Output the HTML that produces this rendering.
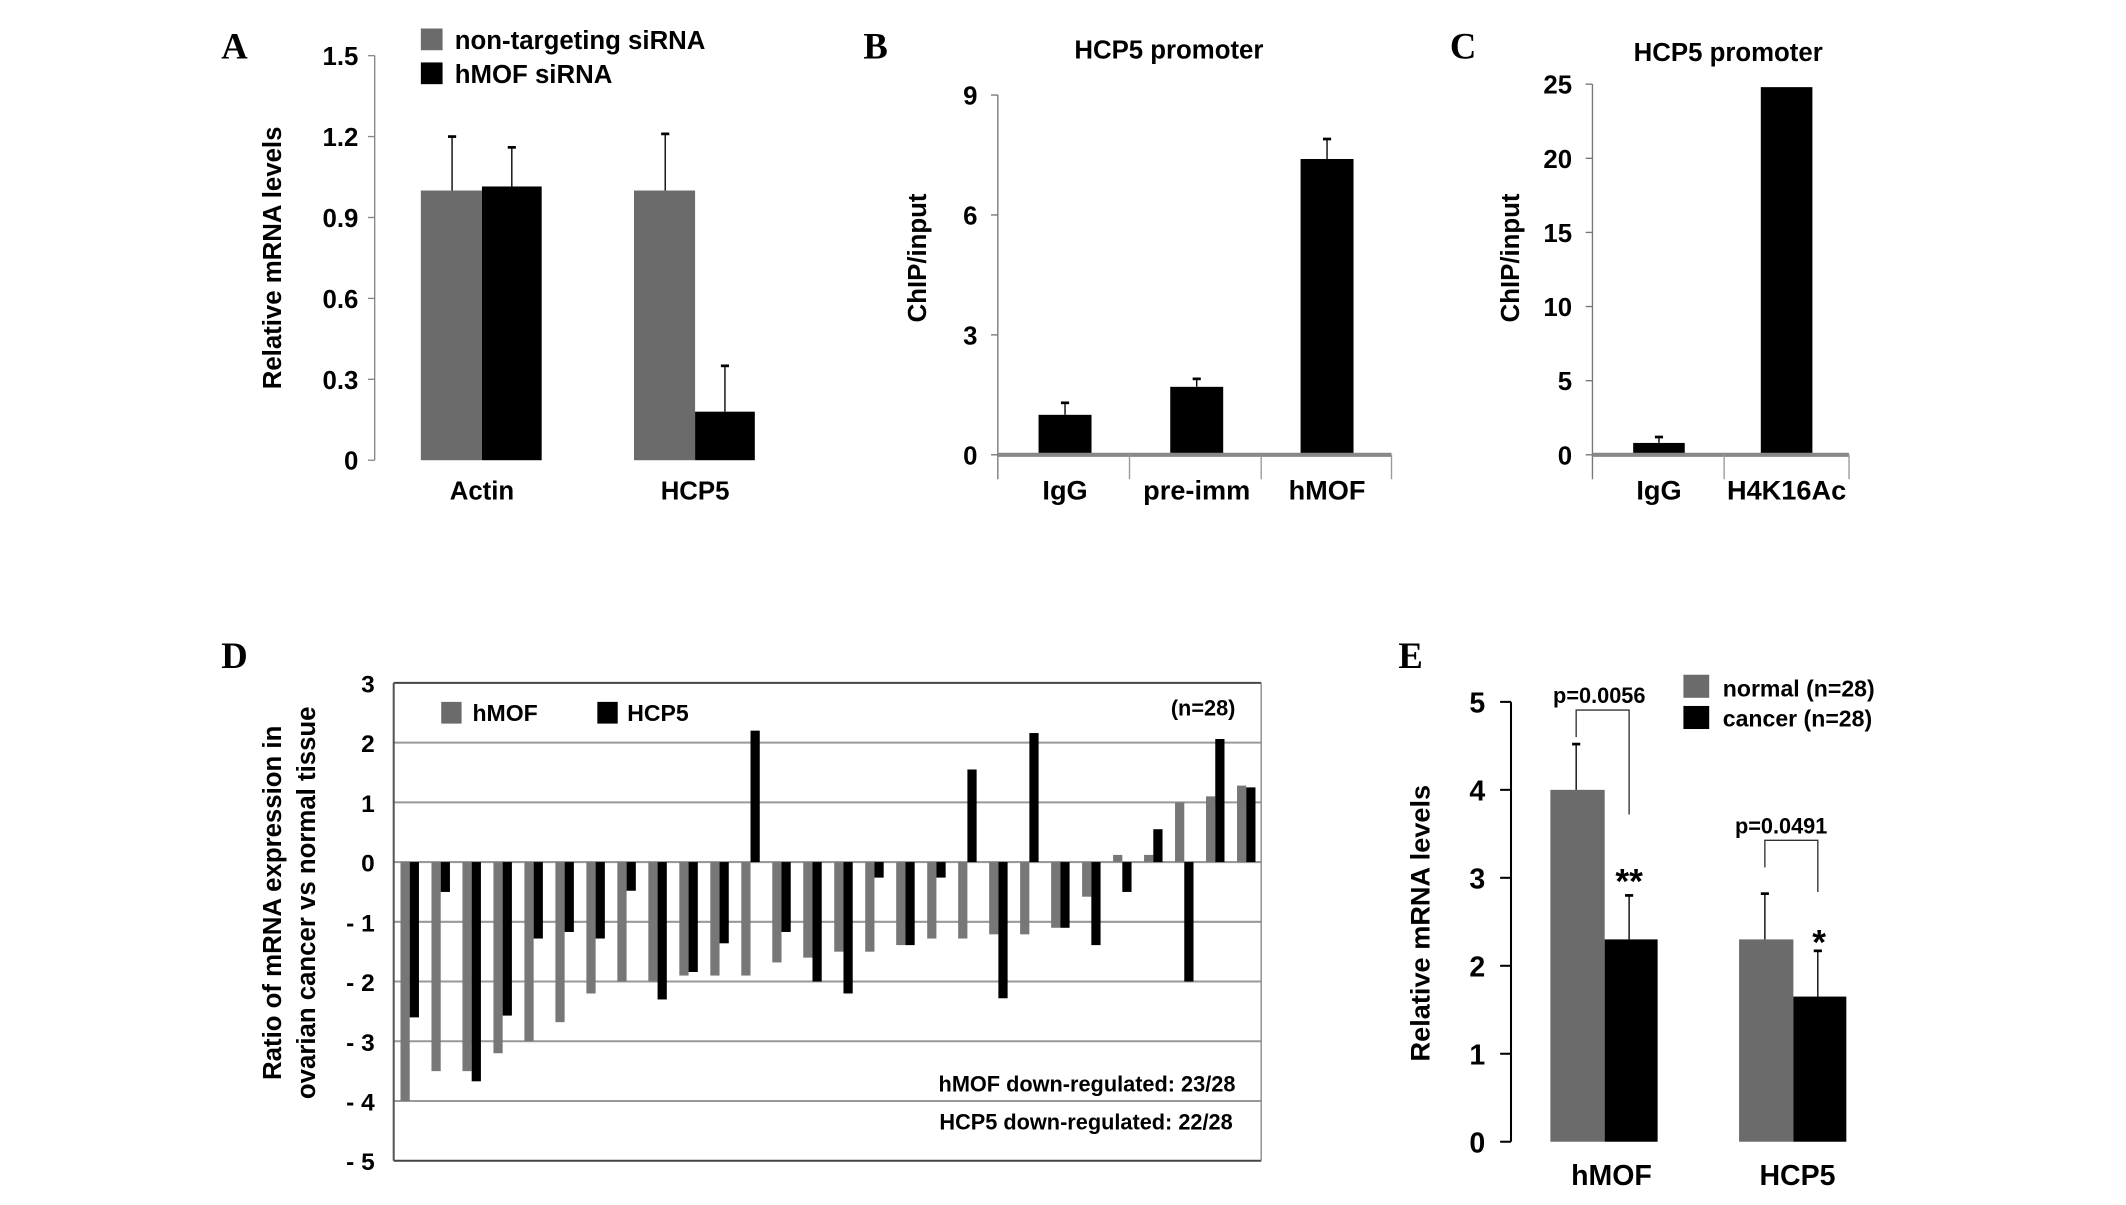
<!DOCTYPE html>
<html><head><meta charset="utf-8"><style>
html,body{margin:0;padding:0;background:#fff;}
svg{display:block;font-family:"Liberation Sans",sans-serif;font-weight:bold;}
</style></head><body>
<svg id="fig" width="2126" height="1205" viewBox="0 0 1566 887.6" preserveAspectRatio="xMinYMin meet">
<rect x="0" y="0" width="1566" height="888" fill="#fff"/>
<g id="static" font-size="19">
<text x="163" y="43" font-family="Liberation Serif,serif" font-size="27">A</text>
<text x="636" y="43" font-family="Liberation Serif,serif" font-size="27">B</text>
<text x="1068" y="43" font-family="Liberation Serif,serif" font-size="27">C</text>
<text x="163" y="492" font-family="Liberation Serif,serif" font-size="27">D</text>
<text x="1030" y="492" font-family="Liberation Serif,serif" font-size="27">E</text>
<rect x="310" y="21" width="16" height="16" fill="#6b6b6b"/>
<text x="335" y="36">non-targeting siRNA</text>
<rect x="310" y="46" width="16" height="16" fill="#000"/>
<text x="335" y="61">hMOF siRNA</text>
<text transform="translate(207,190) rotate(-90)" text-anchor="middle">Relative mRNA levels</text>
<text x="861" y="43" text-anchor="middle">HCP5 promoter</text>
<text transform="translate(682,190) rotate(-90)" text-anchor="middle">ChIP/input</text>
<text x="1273" y="45" text-anchor="middle">HCP5 promoter</text>
<text transform="translate(1119,190) rotate(-90)" text-anchor="middle">ChIP/input</text>
<text transform="translate(207,665) rotate(-90)" text-anchor="middle">Ratio of mRNA expression in</text>
<text transform="translate(232,665) rotate(-90)" text-anchor="middle">ovarian cancer vs normal tissue</text>
<rect x="325" y="517" width="15" height="16" fill="#6b6b6b"/>
<text x="348" y="531" font-size="17">hMOF</text>
<rect x="440" y="517" width="15" height="16" fill="#000"/>
<text x="462" y="531" font-size="17">HCP5</text>
<text x="910" y="527" text-anchor="end" font-size="16">(n=28)</text>
<text x="910" y="804" text-anchor="end" font-size="16">hMOF down-regulated: 23/28</text>
<text x="908" y="832" text-anchor="end" font-size="16">HCP5 down-regulated: 22/28</text>
<rect x="1240" y="497" width="19" height="17" fill="#6b6b6b"/>
<text x="1269" y="513" font-size="17">normal (n=28)</text>
<rect x="1240" y="520" width="19" height="17" fill="#000"/>
<text x="1269" y="535" font-size="17">cancer (n=28)</text>
<text transform="translate(1053,680) rotate(-90)" text-anchor="middle" font-size="20">Relative mRNA levels</text>
<text x="1178" y="518" text-anchor="middle" font-size="16">p=0.0056</text>
<text x="1312" y="614" text-anchor="middle" font-size="16">p=0.0491</text>
<text x="1200" y="658" text-anchor="middle" font-size="26">**</text>
<text x="1340" y="703" text-anchor="middle" font-size="26">*</text>
</g>
<g id="dyn"></g>
</svg>
<script>
// Panel A
const aCategories = ["Actin", "HCP5"];
const aNonTargeting = [1.0, 1.0];
const aNonTargetingErr = [0.2, 0.21];
const aHmofSirna = [1.015, 0.18];
const aHmofSirnaErr = [0.145, 0.17];
const aTicks = ["0", "0.3", "0.6", "0.9", "1.2", "1.5"];
const aTickValues = [0, 0.3, 0.6, 0.9, 1.2, 1.5];
// Panel B
const bCategories = ["IgG", "pre-imm", "hMOF"];
const bValues = [1.0, 1.7, 7.4];
const bErr = [0.3, 0.2, 0.5];
const bTickValues = [0, 3, 6, 9];
// Panel C
const cCategories = ["IgG", "H4K16Ac"];
const cValues = [0.8, 24.8];
const cErr = [0.4, 0];
const cTickValues = [0, 5, 10, 15, 20, 25];
// Panel D
const dHmof = [-4.0,-3.5,-3.5,-3.2,-3.0,-2.68,-2.2,-2.0,-2.0,-1.9,-1.9,-1.9,-1.68,-1.6,-1.5,-1.5,-1.39,-1.28,-1.28,-1.21,-1.21,-1.1,-0.58,0.12,0.12,1.0,1.1,1.28];
const dHcp5 = [-2.6,-0.5,-3.67,-2.57,-1.28,-1.17,-1.28,-0.48,-2.3,-1.84,-1.36,2.2,-1.17,-2.0,-2.2,-0.26,-1.39,-0.26,1.55,-2.28,2.16,-1.1,-1.39,-0.5,0.55,-2.0,2.06,1.25];
const dTickValues = [3, 2, 1, 0, -1, -2, -3, -4, -5];
const dTickLabels = ["3", "2", "1", "0", "- 1", "- 2", "- 3", "- 4", "- 5"];
// Panel E
const eCategories = ["hMOF", "HCP5"];
const eNormal = [4.0, 2.3];
const eNormalErr = [0.52, 0.52];
const eCancer = [2.3, 1.65];
const eCancerErr = [0.5, 0.52];
const eTickValues = [0, 1, 2, 3, 4, 5];

const NS = "http://www.w3.org/2000/svg";
const root = document.getElementById("dyn");
function mk(tag, attrs) {
  const el = document.createElementNS(NS, tag);
  for (const k in attrs) el.setAttribute(k, attrs[k]);
  root.appendChild(el);
  return el;
}
function scale(v0, v1, p0, p1) { return v => p0 + (v - v0) * (p1 - p0) / (v1 - v0); }
function errBar(x, yTop, yVal, name) {
  let l = mk("line", {x1:x, x2:x, y1:yVal, y2:yTop, stroke:"#000", "stroke-width":1});
  
  
  let c = mk("line", {x1:x-3, x2:x+3, y1:yTop, y2:yTop, stroke:"#000", "stroke-width":2});
  
  
}

// ---- Panel A
const ay = scale(0, 1.5, 339, 41);
{
  let ax = mk("line", {x1:276, x2:276, y1:ay(1.5), y2:ay(0), stroke:"#888", "stroke-width":1});
  
  
  aTickValues.forEach((v, i) => {
    let t = mk("line", {x1:271, x2:276, y1:ay(v), y2:ay(v), stroke:"#888"});
    
    
    let tx = mk("text", {x:264, y:ay(v)+7, "text-anchor":"end", "font-size":19});
    tx.textContent = aTicks[i];
    
    
  });
  const starts = [310, 467];
  aCategories.forEach((c, i) => {
    let x0 = starts[i];
    let g = mk("rect", {x:x0, y:ay(aNonTargeting[i]), width:45, height:ay(0)-ay(aNonTargeting[i]), fill:"#6b6b6b"});
    
    
    let b = mk("rect", {x:x0+45, y:ay(aHmofSirna[i]), width:44, height:ay(0)-ay(aHmofSirna[i]), fill:"#000"});
    
    
    errBar(x0+23, ay(aNonTargeting[i]+aNonTargetingErr[i]), ay(aNonTargeting[i]), 'a-error-nontargeting');
    errBar(x0+67, ay(aHmofSirna[i]+aHmofSirnaErr[i]), ay(aHmofSirna[i]), 'a-error-hmof-sirna');
    let t = mk("text", {x:x0+45, y:368, "text-anchor":"middle", "font-size":19});
    t.textContent = c;
    
    
  });
}

// ---- Panels B & C
function chip(prefix, axisX, axisRight, y0, yTopPix, vmax, ticks, cats, vals, errs, barX, barW, seps) {
  const sy = scale(0, vmax, y0, yTopPix);
  let ax = mk("line", {x1:axisX, x2:axisX, y1:sy(vmax), y2:353, stroke:"#777", "stroke-width":1});
  
  
  ticks.forEach(v => {
    let t = mk("line", {x1:axisX-5, x2:axisX, y1:sy(v), y2:sy(v), stroke:"#777"});
    
    
    let tx = mk("text", {x:axisX-15, y:sy(v)+7, "text-anchor":"end", "font-size":19});
    tx.textContent = String(v);
    
    
  });
  cats.forEach((c, i) => {
    let b = mk("rect", {x:barX[i], y:sy(vals[i]), width:barW, height:y0-sy(vals[i]), fill:"#000"});
    
    
    if (errs[i] > 0) errBar(barX[i]+barW/2, sy(vals[i]+errs[i]), sy(vals[i]), prefix + '-error-' + c.toLowerCase());
    let t = mk("text", {x:barX[i]+barW/2, y:368, "text-anchor":"middle", "font-size":20});
    t.textContent = c;
    
    
  });
  let xa = mk("line", {x1:axisX, x2:axisRight, y1:y0, y2:y0, stroke:"#888", "stroke-width":3});
  
  
  seps.forEach(x => {
    let s = mk("line", {x1:x, x2:x, y1:y0, y2:353, stroke:"#999", "stroke-width":1});
    
    
  });
}
chip('b', 735, 1025, 335, 70, 9, bTickValues, bCategories, bValues, bErr, [765, 862, 958], 39, [832, 929, 1025]);
chip('c', 1173, 1362, 335, 62, 25, cTickValues, cCategories, cValues, cErr, [1203, 1297], 38, [1270, 1362]);

// ---- Panel D
const dy = scale(3, -5, 503, 855);
const dL = 290, dR = 929, slot = (dR - dL) / dHmof.length;
dTickValues.forEach((v, i) => {
  let gl = mk("line", {x1:dL, x2:dR, y1:dy(v), y2:dy(v), stroke:(v===3||v===-5)?"#444":"#999", "stroke-width":1.5});
  
  
  let tx = mk("text", {x:276, y:dy(v)+7, "text-anchor":"end", "font-size":18});
  tx.textContent = dTickLabels[i];
  
  
});
{
  let l = mk("line", {x1:dL, x2:dL, y1:dy(3), y2:dy(-5), stroke:"#555", "stroke-width":1.5});
  
  
  let r = mk("line", {x1:dR, x2:dR, y1:dy(3), y2:dy(-5), stroke:"#888", "stroke-width":1});
  
  
}
dHmof.forEach((v, i) => {
  const x = dL + i * slot + 5;
  let g = mk("rect", {x:x, y:Math.min(dy(v), dy(0)), width:6.8, height:Math.abs(dy(v)-dy(0)), fill:"#777"});
  
  
  const h = dHcp5[i];
  let b = mk("rect", {x:x+6.8, y:Math.min(dy(h), dy(0)), width:6.8, height:Math.abs(dy(h)-dy(0)), fill:"#000"});
  
  
});

// ---- Panel E
const ey = scale(0, 5, 841, 517);
{
  let ax = mk("line", {x1:1113, x2:1113, y1:ey(5), y2:ey(0), stroke:"#000", "stroke-width":1.5});
  
  
  eTickValues.forEach(v => {
    let t = mk("line", {x1:1105, x2:1113, y1:ey(v), y2:ey(v), stroke:"#000", "stroke-width":1.5});
    
    
    let tx = mk("text", {x:1094, y:ey(v)+8, "text-anchor":"end", "font-size":21});
    tx.textContent = String(v);
    
    
  });
  const starts = [1142, 1281];
  eCategories.forEach((c, i) => {
    const x0 = starts[i];
    let g = mk("rect", {x:x0, y:ey(eNormal[i]), width:40, height:ey(0)-ey(eNormal[i]), fill:"#6b6b6b"});
    
    
    let b = mk("rect", {x:x0+40, y:ey(eCancer[i]), width:39, height:ey(0)-ey(eCancer[i]), fill:"#000"});
    
    
    errBar(x0+19, ey(eNormal[i]+eNormalErr[i]), ey(eNormal[i]), 'e-error-normal');
    errBar(x0+58, ey(eCancer[i]+eCancerErr[i]), ey(eCancer[i]), 'e-error-cancer');
    let t = mk("text", {x:x0+(i===0?45:43), y:873, "text-anchor":"middle", "font-size":21});
    t.textContent = c;
    
    
  });
  let br1 = mk("polyline", {points:"1161,543 1161,523 1200,523 1200,600", fill:"none", stroke:"#333", "stroke-width":1});
  
  
  let br2 = mk("polyline", {points:"1300,639 1300,619 1339,619 1339,657", fill:"none", stroke:"#333", "stroke-width":1});
  
  
}
</script>
</body></html>
